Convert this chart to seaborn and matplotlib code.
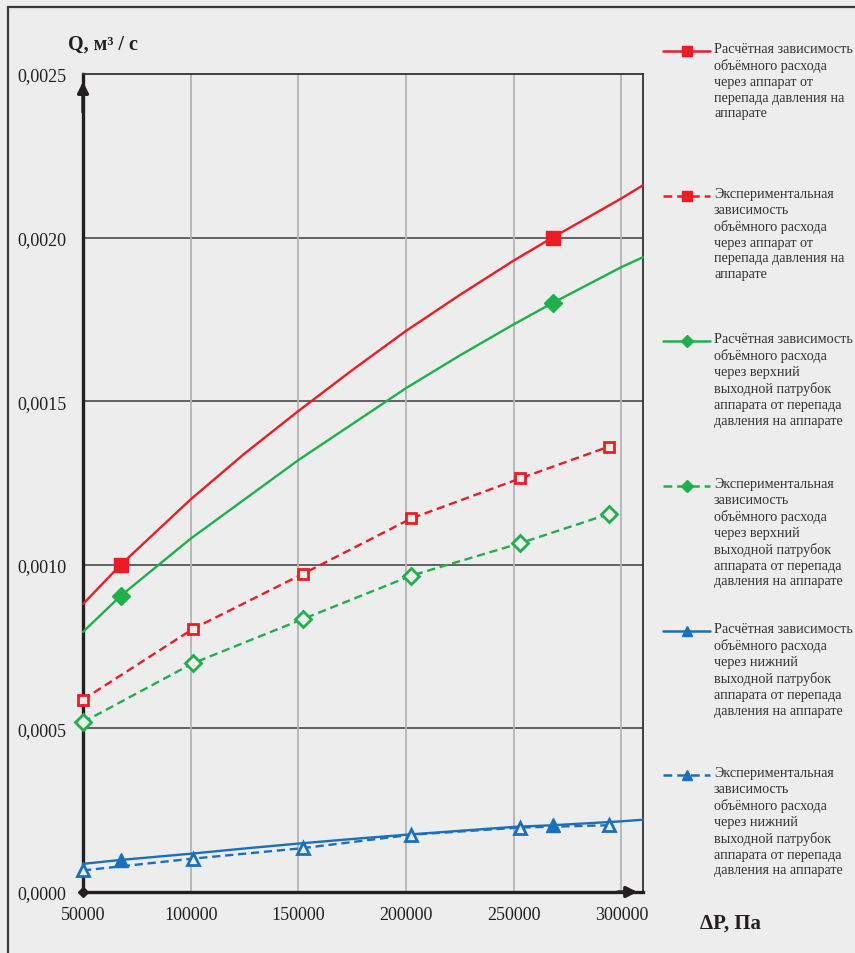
import matplotlib
matplotlib.use('Agg')
import matplotlib.pyplot as plt
from matplotlib.lines import Line2D
from matplotlib.patches import Rectangle
from matplotlib.ticker import FuncFormatter, MultipleLocator
import seaborn as sns

# Calculated curves
calc_dp = [50000, 67500, 100000, 125000, 150000, 175000, 200000, 225000,
           250000, 268000, 300000, 310000]
q_calc_total = [0.00088, 0.00100, 0.00120, 0.00134, 0.00147, 0.001595, 0.001715,
                0.001825, 0.00193, 0.00200, 0.00212, 0.00216]
q_calc_upper = [0.000795, 0.000905, 0.00108, 0.00120, 0.00132, 0.00143, 0.00154,
                0.00164, 0.001735, 0.00180, 0.00191, 0.00194]
q_calc_lower = [0.000086, 0.000098, 0.000117, 0.000133, 0.000148, 0.000162,
                0.000175, 0.000187, 0.000199, 0.000204, 0.000216, 0.000221]
calc_marks = [1, 9]

# Experimental points
exp_dp = [50000, 101000, 152000, 202500, 253000, 294000]
q_exp_total = [0.000588, 0.000804, 0.000972, 0.001142, 0.001264, 0.001361]
q_exp_upper = [0.000519, 0.000699, 0.000834, 0.000967, 0.001066, 0.001155]
q_exp_lower = [0.000066, 0.000102, 0.000134, 0.000175, 0.000197, 0.000204]

legend_texts = [
    "Расчётная зависимость\nобъёмного расхода\nчерез аппарат от\nперепада давления на\nаппарате",
    "Экспериментальная\nзависимость\nобъёмного расхода\nчерез аппарат от\nперепада давления на\nаппарате",
    "Расчётная зависимость\nобъёмного расхода\nчерез верхний\nвыходной патрубок\nаппарата от перепада\nдавления на аппарате",
    "Экспериментальная\nзависимость\nобъёмного расхода\nчерез верхний\nвыходной патрубок\nаппарата от перепада\nдавления на аппарате",
    "Расчётная зависимость\nобъёмного расхода\nчерез нижний\nвыходной патрубок\nаппарата от перепада\nдавления на аппарате",
    "Экспериментальная\nзависимость\nобъёмного расхода\nчерез нижний\nвыходной патрубок\nаппарата от перепада\nдавления на аппарате",
]

RED = '#ED1C24'
GREEN = '#1FB04B'
BLUE = '#1B70BD'
BG = '#EDEDED'
DARK = '#231F20'

sns.set_theme(style='white')
plt.rcParams['font.family'] = ['Liberation Serif', 'DejaVu Serif']

W, H = 855, 954
fig = plt.figure(figsize=(W / 100, H / 100), dpi=100, facecolor=BG)
ax = fig.add_axes([83 / W, 1 - 893 / H, 560 / W, 818 / H])
ax.set_facecolor(BG)

# series: (x, y, color, style, marker, size, filled, markevery)
series = [
    (calc_dp, q_calc_total, RED, '-', 's', 9.5, True, calc_marks),
    (exp_dp, q_exp_total, RED, (0, (3.5, 2)), 's', 6.5, False, None),
    (calc_dp, q_calc_upper, GREEN, '-', 'D', 9, True, calc_marks),
    (exp_dp, q_exp_upper, GREEN, (0, (3.5, 2)), 'D', 8, False, None),
    (calc_dp, q_calc_lower, BLUE, '-', '^', 10.5, True, calc_marks),
    (exp_dp, q_exp_lower, BLUE, (0, (3.5, 2)), '^', 8, False, None),
]

for x, y, c, ls, mk, ms, filled, every in series:
    sns.lineplot(x=x, y=y, ax=ax, color=c, linestyle=ls, linewidth=1.7,
                 marker=mk, markersize=ms, markevery=every,
                 markerfacecolor=c if filled else BG,
                 markeredgecolor=c, markeredgewidth=1.0 if filled else 2.0,
                 clip_on=False, zorder=5)

ax.set_xlim(50000, 310000)
ax.set_ylim(0, 0.0025)
ax.xaxis.set_major_locator(MultipleLocator(50000))
ax.yaxis.set_major_locator(MultipleLocator(0.0005))
ax.yaxis.set_major_formatter(FuncFormatter(lambda v, p: f"{v:.4f}".replace('.', ',')))
ax.xaxis.set_major_formatter(FuncFormatter(lambda v, p: f"{int(round(v))}"))
ax.set_xlabel('')
ax.set_ylabel('')

# grid: dark horizontal, light vertical
for yv in [0.0005, 0.001, 0.0015, 0.002]:
    ax.axhline(yv, color='#4A4A4A', lw=1.2, zorder=1)
for xv in [100000, 150000, 200000, 250000, 300000]:
    ax.axvline(xv, color='#B4B4B4', lw=1.3, zorder=1)

for side in ['top', 'right']:
    ax.spines[side].set_color('#333333')
    ax.spines[side].set_linewidth(1.3)
for side in ['left', 'bottom']:
    ax.spines[side].set_color(DARK)
    ax.spines[side].set_linewidth(2.4)

ax.tick_params(axis='both', which='major', length=3, width=1.5, color=DARK,
               labelsize=13, labelcolor='#231F20', direction='out')
ax.tick_params(axis='y', pad=9)
ax.tick_params(axis='x', pad=7)

# axis arrows
ax.annotate('', xy=(0, 0.994), xytext=(0, 0.95), xycoords='axes fraction',
            arrowprops=dict(arrowstyle='-|>', color=DARK, lw=2.4, mutation_scale=16),
            zorder=6)
ax.annotate('', xy=(0.995, 0), xytext=(0.95, 0), xycoords='axes fraction',
            arrowprops=dict(arrowstyle='-|>', color=DARK, lw=2.4, mutation_scale=16),
            zorder=6)
ax.plot([0], [0], marker='D', ms=5, color=DARK, transform=ax.transAxes,
        clip_on=False, zorder=7)

# axis titles
fig.text(68 / W, 1 - 45 / H, 'Q, м³ / с', fontsize=14.5, fontweight='bold',
         color=DARK, va='center', ha='left')
fig.text(700 / W, 1 - 924 / H, 'ΔP, Па', fontsize=15, fontweight='bold',
         color=DARK, va='center', ha='left')

# hand-made legend on the right
legend_y = [52, 197, 342, 487, 632, 776]
for (x, y, c, ls, mk, ms, filled, every), txt, ly in zip(series, legend_texts, legend_y):
    yf = 1 - ly / H
    fig.add_artist(Line2D([663 / W, 710 / W], [yf, yf], color=c, linestyle=ls,
                          linewidth=1.8, transform=fig.transFigure))
    fig.add_artist(Line2D([687 / W], [yf], color=c, marker=mk,
                          markersize=7 if mk != 'D' else 6,
                          markerfacecolor=c, markeredgecolor=c,
                          transform=fig.transFigure))
    fig.text(714 / W, 1 - (ly - 9) / H, txt, fontsize=10.2, color='#333333',
             va='top', ha='left', linespacing=1.28)

# outer frame
fig.add_artist(Rectangle((8 / W, -0.05), 1.2, 1 - 8 / H + 0.05, fill=False,
                         edgecolor='#3A3A3A', linewidth=1.6,
                         transform=fig.transFigure))

fig.savefig('out.png', dpi=100, facecolor=BG)
